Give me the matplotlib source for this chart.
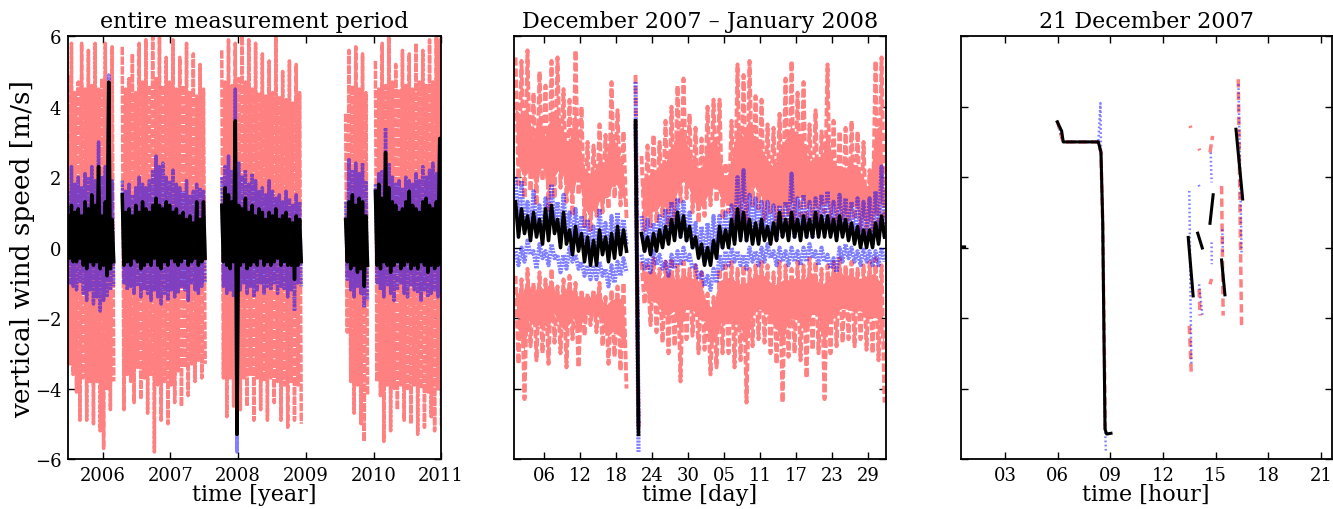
import numpy as np
import matplotlib
matplotlib.use('Agg')
import matplotlib.pyplot as plt

plt.rcParams['font.family'] = 'DejaVu Serif'
plt.rcParams['lines.scale_dashes'] = False
plt.rcParams['axes.unicode_minus'] = True

nan = np.nan
RED = '#ff8080'
BLUE = (0.0, 0.0, 1.0, 0.5)
DASH = (0, (6, 3))
DOT = (0, (1.2, 1.8))

# ---- panel 1: whole period, 0.05 yr bins, max/min of each trace per bin
p1_starts = [2005.50, 2006.30, 2007.77, 2009.60, 2010.04]
p1_counts = [14, 25, 24, 7, 20]
p1_step = 0.05

red_hi = [4.9, 5.8, 4.4, 4.7, 5.8, 4.5, 5.6, 4.6, 5.8, 4.5, 4.8, 5.8, 4.6, 5.7,
          5.7, 4.5, 4.8, 5.5, 4.4, 5.8, 4.7, 5.9, 4.6, 6.0, 4.8, 6.0, 4.6, 5.4, 4.7, 5.9, 4.5, 5.4, 4.6, 5.8, 4.4, 5.5, 4.3, 5.2, 4.5,
          5.6, 4.7, 5.9, 4.6, 5.8, 4.8, 6.0, 4.7, 5.9, 4.5, 5.8, 4.4, 5.5, 4.3, 5.3, 4.4, 6.0, 4.3, 5.0, 4.2, 5.3, 4.1, 5.2, 4.4,
          3.8, 5.6, 4.6, 5.7, 4.5, 5.5, 4.4,
          5.3, 4.5, 5.8, 4.6, 6.0, 4.7, 5.2, 4.5, 5.6, 4.6, 5.5, 4.5, 5.8, 4.7, 5.6, 4.6, 5.9, 4.7, 6.0, 5.9]
red_lo = [-3.3, -3.6, -4.1, -4.9, -3.7, -4.9, -3.8, -5.0, -3.8, -5.2, -5.7, -4.0, -4.6, -3.8,
          -4.6, -3.6, -3.8, -4.4, -3.4, -4.3, -3.7, -4.7, -3.6, -5.8, -3.9, -4.9, -3.8, -5.0, -3.9, -4.4, -3.5, -4.5, -3.4, -4.2, -3.3, -3.8, -3.2, -3.7, -3.3,
          -3.7, -4.8, -3.7, -4.5, -3.8, -4.6, -3.7, -4.5, -3.6, -4.9, -3.7, -4.6, -3.8, -4.9, -3.7, -4.4, -3.8, -4.9, -3.9, -5.1, -3.8, -4.9, -3.9, -5.0,
          -2.4, -3.8, -4.7, -3.9, -5.0, -5.5, -4.2,
          -3.8, -4.2, -5.5, -3.9, -5.2, -4.0, -4.6, -3.9, -4.9, -4.0, -5.0, -3.9, -5.3, -4.0, -5.1, -4.1, -4.8, -5.2, -4.0, -5.1]
blue_hi = [1.6, 2.3, 1.8, 2.0, 1.7, 2.1, 2.0, 2.3, 1.9, 3.0, 2.0, 2.3, 4.9, 1.9,
           1.9, 1.6, 1.8, 1.5, 1.7, 2.0, 1.8, 1.7, 1.9, 2.2, 2.6, 2.3, 2.4, 2.0, 1.9, 2.2, 1.8, 1.7, 1.6, 1.9, 1.5, 1.6, 1.8, 1.7, 1.6,
           2.0, 2.3, 2.6, 2.2, 4.5, 2.4, 2.0, 2.2, 1.8, 2.1, 1.9, 1.6, 1.7, 1.5, 1.9, 1.6, 1.4, 1.5, 1.3, 1.6, 1.4, 1.2, 1.5, 1.3,
           1.3, 2.5, 2.2, 2.4, 2.1, 2.4, 1.9,
           1.8, 2.1, 2.2, 3.4, 2.4, 2.0, 1.8, 1.9, 1.7, 2.0, 1.9, 1.8, 2.1, 1.9, 2.3, 2.0, 2.2, 2.4, 2.1, 3.0]
blue_lo = [-1.0, -1.1, -1.2, -1.0, -1.3, -1.5, -1.2, -1.6, -1.4, -1.8, -1.5, -1.4, -1.2, -1.1,
           -1.0, -1.2, -1.1, -1.3, -1.1, -1.4, -1.2, -1.3, -1.5, -1.2, -1.4, -1.6, -1.3, -1.5, -1.2, -1.4, -1.3, -1.1, -1.2, -1.5, -1.0, -1.2, -1.3, -1.1, -1.0,
           -1.1, -1.3, -1.2, -1.4, -5.8, -1.2, -1.0, -1.3, -1.1, -1.4, -1.2, -1.0, -1.3, -1.1, -1.2, -1.0, -1.3, -1.1, -1.2, -1.4, -1.2, -1.8, -1.0, -1.1,
           -0.9, -1.2, -1.4, -1.1, -1.3, -1.7, -1.5,
           -1.0, -1.2, -1.4, -1.1, -1.3, -1.5, -1.2, -1.0, -1.3, -1.4, -1.1, -1.2, -1.3, -1.5, -1.2, -1.4, -1.3, -1.2, -1.4, -1.3]
black_hi = [0.9, 1.2, 1.0, 1.1, 0.9, 1.3, 1.1, 1.5, 1.2, 2.3, 0.9, 1.3, 4.7, 0.8,
            1.5, 1.0, 1.1, 0.9, 1.2, 1.0, 1.3, 1.1, 1.0, 1.2, 1.4, 1.2, 1.1, 1.3, 1.2, 1.0, 1.1, 0.9, 1.0, 0.8, 0.9, 0.7, 1.3, 0.8, 1.3,
            1.2, 1.7, 1.5, 1.3, 3.6, 1.2, 1.1, 1.4, 1.0, 1.2, 0.9, 1.1, 1.0, 0.8, 1.0, 0.9, 1.1, 0.8, 0.9, 1.0, 0.8, 0.7, 0.9, 0.8,
            0.8, 1.3, 1.5, 1.2, 1.4, 1.3, 0.9,
            1.6, 1.8, 1.4, 2.7, 1.7, 1.3, 1.2, 1.0, 1.1, 1.3, 1.6, 1.2, 1.1, 1.0, 1.3, 1.4, 1.2, 1.1, 1.3, 3.1]
black_lo = [-0.3, -0.4, -0.4, -0.3, -0.5, -0.6, -0.4, -0.5, -0.4, -0.6, -0.5, -0.8, -0.6, -0.4,
            -0.5, -0.4, -0.5, -0.3, -0.4, -0.6, -0.5, -0.4, -0.5, -0.3, -0.5, -0.6, -0.4, -0.5, -0.3, -0.4, -0.5, -0.4, -0.3, -0.5, -0.4, -0.3, -0.5, -0.4, -0.3,
            -0.4, -0.5, -0.6, -0.4, -5.3, -0.5, -0.4, -0.6, -0.5, -0.4, -0.5, -0.3, -0.5, -0.4, -0.5, -0.4, -0.3, -0.5, -0.4, -0.5, -0.5, -0.9, -0.5, -0.4,
            -0.4, -0.6, -0.5, -0.7, -0.6, -1.1, -0.5,
            -0.5, -0.6, -0.4, -0.5, -0.7, -0.5, -0.4, -0.6, -0.5, -0.4, -0.6, -0.5, -0.6, -0.4, -0.5, -0.7, -0.5, -0.6, -0.5, -0.4]
years = [2006, 2007, 2008, 2009, 2010, 2011]

# ---- panel 2: Dec 2007 - Jan 2008, 1 day bins (days since 1 Dec 2007)
p2_starts = [0.5, 20.5, 21.5]
p2_counts = [19, 1, 41]
p2_step = 1.0

ru_hi = [5.4, 5.3, 5.6, 4.4, 5.0, 4.6, 5.3, 5.4, 4.5, 4.2, 5.6, 4.0, 3.0, 2.9, 3.5, 3.2, 4.7, 3.9, 3.3,
         4.9, 2.6, 2.9, 3.2, 3.0, 3.6, 4.0, 4.6, 4.8, 3.8, 3.4, 3.1, 4.0, 4.2, 4.2, 2.4, 3.6, 5.2, 4.9, 5.3, 4.3,
         4.2, 3.5, 3.4, 3.8, 4.8, 5.3, 4.4, 4.7, 3.5, 3.9, 3.3, 5.2, 3.6, 3.3, 3.4, 3.6, 3.3, 3.0, 2.2, 5.3, 5.4]
ru_lo = [1.8, 1.4, 1.6, 1.2, 1.9, 1.0, 1.4, 1.7, 1.3, 0.9, 1.5, 0.6, 0.5, 0.9, 1.0, 1.1, 1.4, 1.2, 0.8,
         -5.1, 0.5, 0.6, 0.7, 0.9, 0.6, 0.8, 1.3, 1.4, 1.0, 0.7, 0.9, 1.2, 1.3, 0.8, 1.0, 0.6, 0.7, 0.5, 1.2, 1.1,
         0.8, 1.0, 0.6, 0.8, 0.4, 0.7, 0.9, 0.6, 0.8, 0.6, 1.0, 0.5, 0.7, 0.6, 0.4, 0.8, 0.5, 0.3, 0.5, 0.4, 0.6]
rl_hi = [-0.8, -0.9, -0.6, -1.0, -0.7, -0.9, -0.6, -1.1, -0.9, -0.8, -1.0, -1.2, -1.3, -1.2, -1.0, -1.4, -1.2, -1.1, -1.0,
         3.6, -0.4, -0.5, -0.3, -0.6, -0.4, -0.3, -0.5, -0.4, -0.6, -0.5, -0.7, -1.3, -1.4, -0.6, -0.5, -0.4, -0.6, -0.5, -0.6, -0.5,
         -0.4, -0.5, -0.7, -0.4, -0.5, -0.6, -0.4, -0.5, -0.3, -0.4, -0.6, -0.5, -0.4, -0.3, -0.5, -0.4, -0.6, -0.5, -0.4, -0.3, -0.5]
rl_lo = [-3.3, -4.3, -2.8, -3.2, -3.0, -3.3, -2.7, -3.0, -3.4, -2.6, -3.4, -2.5, -2.2, -2.4, -2.8, -3.3, -3.1, -3.5, -4.0,
         -5.1, -1.6, -2.2, -2.4, -2.7, -3.0, -2.8, -3.8, -2.6, -2.5, -3.0, -2.9, -3.6, -3.4, -3.0, -3.0, -3.4, -3.2, -4.4, -2.8, -2.6,
         -2.7, -3.0, -3.3, -4.4, -3.1, -3.0, -3.2, -3.7, -2.9, -3.0, -4.3, -3.0, -2.8, -2.7, -2.6, -2.8, -2.6, -2.9, -3.0, -3.2, -4.4]
bu_hi = [2.0, 1.9, 1.3, 1.6, 1.2, 1.4, 1.8, 1.3, 1.5, 1.0, 1.1, 0.9, 0.8, 0.6, 1.1, 0.7, 0.9, 1.0, 0.8,
         4.7, 0.9, 0.8, 0.7, 0.9, 1.1, 1.3, 1.4, 1.3, 1.0, 0.7, 0.6, 0.7, 0.9, 0.9, 1.0, 1.2, 2.0, 2.2, 1.5, 1.4,
         1.3, 1.3, 1.2, 1.2, 1.3, 2.1, 1.4, 1.5, 1.3, 1.4, 1.5, 1.6, 1.3, 1.5, 1.4, 1.3, 1.4, 1.3, 1.4, 1.6, 2.3]
bu_lo = [0.6, 0.5, 0.4, 0.5, 0.3, 0.5, 0.6, 0.3, 0.4, 0.1, 0.2, 0.0, -0.1, -0.2, 0.1, -0.2, -0.1, 0.0, 0.1,
         -5.0, -0.1, 0.0, 0.1, 0.2, 0.3, 0.4, 0.3, 0.2, 0.0, -0.2, -0.3, -0.2, -0.1, 0.0, 0.1, 0.2, 0.3, 0.2, 0.3, 0.2,
         0.3, 0.3, 0.2, 0.3, 0.4, 0.3, 0.4, 0.3, 0.3, 0.4, 0.5, 0.4, 0.3, 0.4, 0.3, 0.2, 0.3, 0.2, 0.1, 0.2, 0.3]
bl_hi = [-0.1, 0.0, 0.2, -0.1, 0.1, -0.1, 0.1, -0.2, -0.2, 0.0, -0.2, -0.4, -0.5, -0.5, -0.4, -0.6, -0.5, -0.4, -0.3,
         3.5, -0.2, -0.3, -0.1, -0.2, -0.4, -0.2, -0.1, 0.0, -0.2, -0.5, -0.7, -0.8, -0.6, -0.2, -0.1, 0.0, -0.1, -0.2, 0.0, -0.1,
         0.0, 0.1, -0.1, 0.0, -0.1, 0.0, -0.1, 0.0, 0.1, -0.1, 0.0, -0.2, -0.3, 0.0, 0.1, 0.0, -0.1, 0.0, -0.1, -0.1, 0.0]
bl_lo = [-0.5, -0.4, -0.2, -0.6, -0.3, -0.5, -0.3, -0.7, -0.6, -0.4, -0.6, -0.8, -0.9, -0.9, -0.8, -1.1, -1.0, -0.8, -0.7,
         -5.8, -0.6, -0.7, -0.5, -0.6, -0.8, -0.6, -0.5, -0.4, -0.6, -0.9, -1.1, -1.2, -1.0, -0.6, -0.5, -0.4, -0.5, -0.6, -0.4, -0.5,
         -0.4, -0.3, -0.5, -0.4, -0.5, -0.4, -0.5, -0.4, -0.3, -0.5, -0.4, -0.6, -0.7, -0.4, -0.3, -0.4, -0.5, -0.4, -0.5, -0.5, -0.4]
k_hi = [1.3, 1.1, 0.9, 1.0, 0.8, 1.1, 1.2, 0.8, 1.0, 0.5, 0.6, 0.4, 0.3, 0.2, 0.5, 0.3, 0.4, 0.6, 0.5,
        3.6, 0.4, 0.3, 0.4, 0.5, 0.6, 0.8, 1.0, 0.9, 0.6, 0.3, 0.1, 0.0, 0.2, 0.6, 0.5, 0.8, 1.1, 1.0, 0.8, 0.7,
        0.8, 0.6, 0.7, 1.0, 0.8, 1.0, 0.8, 0.9, 0.8, 1.0, 0.9, 0.9, 0.8, 0.9, 0.8, 0.7, 0.6, 0.5, 0.5, 0.7, 0.9]
k_lo = [0.3, 0.4, 0.2, 0.3, 0.1, 0.2, 0.4, 0.0, 0.1, -0.2, -0.1, -0.4, -0.5, -0.5, -0.2, -0.4, -0.3, -0.2, -0.1,
        -5.3, -0.1, -0.2, -0.1, 0.0, 0.1, 0.2, 0.3, 0.2, 0.0, -0.3, -0.5, -0.5, -0.3, 0.0, 0.0, 0.1, 0.2, 0.2, 0.1, 0.1,
        0.2, 0.1, 0.2, 0.3, 0.2, 0.3, 0.2, 0.3, 0.3, 0.3, 0.3, 0.3, 0.2, 0.3, 0.2, 0.1, 0.0, 0.0, 0.0, 0.1, 0.3]
day_ticks = [5, 11, 17, 23, 29, 35, 41, 47, 53, 59]
day_labels = ['06', '12', '18', '24', '30', '05', '11', '17', '23', '29']

# ---- panel 3: 21 December 2007 (hours)
r3_t = [5.98, 6.25, 6.32, 8.32, 8.47, 8.57, 8.72, nan, 13.55, 13.59, nan, 13.50, 13.62, nan,
        14.05, 14.09, nan, 14.06, 14.11, nan, 14.68, 14.83, nan, 14.68, 14.77, nan, 15.34, 15.43, nan, 16.29, 16.48]
r3_v = [3.60, 3.10, 3.00, 3.00, 2.70, 0.60, -5.15, nan, 3.46, 3.40, nan, -2.22, -3.64, nan,
        2.81, 2.76, nan, -1.18, -1.93, nan, 2.70, 3.17, nan, -1.04, -0.89, nan, 1.75, -1.93, nan, 4.78, -2.26]
b3_t = [5.98, 6.25, 6.32, 8.32, 8.44, 8.47, 8.57, 8.70, 8.75, nan, 13.50, 13.56, 13.62, nan, 14.04, 14.08, nan,
        14.06, 14.25, nan, 14.72, 14.77, nan, 14.77, 14.78, nan, 15.38, 15.41, nan, 16.30, 16.40, 16.48]
b3_v = [3.60, 3.10, 3.00, 3.00, 4.10, 2.70, 0.70, -5.15, -5.76, nan, 1.61, -1.00, -3.35, nan, 1.78, 1.72, nan,
        -1.04, -1.93, nan, 2.70, 1.85, nan, 0.15, -0.47, nan, 0.52, -0.13, nan, 4.64, 2.00, -0.18]
k3_t = [0.48, 0.70, nan, 5.98, 6.23, 6.32, 8.32, 8.47, 8.57, 8.70, 8.79, 9.04, nan, 13.44, 13.72, nan,
        13.98, 14.24, nan, 14.68, 14.86, nan, 15.34, 15.53, nan, 16.16, 16.54]
k3_v = [0.02, 0.02, nan, 3.57, 3.31, 3.00, 3.00, 2.70, 0.71, -5.15, -5.29, -5.27, nan, 0.29, -1.37, nan,
        0.41, -0.01, nan, 0.69, 1.50, nan, -0.35, -1.34, nan, 3.36, 1.38]
hour_ticks = [3, 6, 9, 12, 15, 18, 21]


def zigzag(starts, counts, step, hi, lo):
    # each bin: line goes from its max to its min, segments split by nan
    xs, ys = [], []
    i = 0
    w = step / 4.0
    for s, n in zip(starts, counts):
        t = s + step * np.arange(n)
        xs.append(np.column_stack([t - w, t + w]).ravel())
        ys.append(np.column_stack([hi[i:i + n], lo[i:i + n]]).ravel())
        xs.append([nan])
        ys.append([nan])
        i += n
    return np.concatenate(xs), np.concatenate(ys)


def core(ax, starts, counts, step, hi, lo, f_top, f_bot, color):
    # densest part of a trace (where the strokes overlap), only a fraction of the range
    hi = np.asarray(hi)
    lo = np.asarray(lo)
    r = hi - lo
    top = hi - f_top * r
    bot = lo + f_bot * r
    i = 0
    w = step / 4.0
    for s, n in zip(starts, counts):
        t = s + step * np.arange(n)
        if n > 1:
            ax.fill(np.r_[t - w, (t + w)[::-1]],
                    np.r_[top[i:i + n], bot[i:i + n][::-1]], color=color, lw=0)
        i += n


def join(*traces):
    xs, ys = [], []
    for x, y in traces:
        xs += [x, [nan]]
        ys += [y, [nan]]
    return np.concatenate(xs), np.concatenate(ys)


def style(ax):
    ax.set_ylim(-6, 6)
    ax.set_yticks([-6, -4, -2, 0, 2, 4, 6])
    ax.tick_params(direction='in', top=True, right=True, length=5, width=1,
                   labelsize=13, pad=5)
    for s in ax.spines.values():
        s.set_linewidth(1.3)


fig = plt.figure(figsize=(13.33, 5.10), dpi=100)
ax1 = fig.add_axes([0.0512, 0.098, 0.2798, 0.829])
ax2 = fig.add_axes([0.3856, 0.098, 0.2791, 0.829])
ax3 = fig.add_axes([0.7207, 0.098, 0.2783, 0.829])

# panel 1 (bins are dense, so the gaps of the dash pattern are kept short)
x, y = zigzag(p1_starts, p1_counts, p1_step, red_hi, red_lo)
ax1.plot(x, y, color=RED, lw=2.5, linestyle=(0, (6, 1)))
x, y = zigzag(p1_starts, p1_counts, p1_step, blue_hi, blue_lo)
ax1.plot(x, y, color=BLUE, lw=2.5, linestyle=(0, (2, 0.6)))
x, y = zigzag(p1_starts, p1_counts, p1_step, black_hi, black_lo)
ax1.plot(x, y, color='k', lw=2.5)
ax1.set_xlim(2005.49, 2011.0)
ax1.set_xticks(years)
ax1.set_xticklabels([str(v) for v in years])
style(ax1)
ax1.set_title('entire measurement period', fontsize=16, pad=7)
ax1.set_xlabel('time [year]', fontsize=16, labelpad=-1)
ax1.set_ylabel('vertical wind speed [m/s]', fontsize=19, labelpad=0)

# panel 2
core(ax2, p2_starts, p2_counts, p2_step, ru_hi, ru_lo, 0.4, 0.15, RED)
core(ax2, p2_starts, p2_counts, p2_step, rl_hi, rl_lo, 0.15, 0.4, RED)
x, y = join(zigzag(p2_starts, p2_counts, p2_step, ru_hi, ru_lo),
            zigzag(p2_starts, p2_counts, p2_step, rl_hi, rl_lo))
ax2.plot(x, y, color=RED, lw=2.8, linestyle=(0, (6, 2)))
x, y = join(zigzag(p2_starts, p2_counts, p2_step, bu_hi, bu_lo),
            zigzag(p2_starts, p2_counts, p2_step, bl_hi, bl_lo))
ax2.plot(x, y, color=BLUE, lw=3.0, linestyle=(0, (1.5, 0.8)))
x, y = zigzag(p2_starts, p2_counts, p2_step, k_hi, k_lo)
ax2.plot(x, y, color='k', lw=2.6)
ax2.set_xlim(0, 62)
ax2.set_xticks(day_ticks)
ax2.set_xticklabels(day_labels)
style(ax2)
ax2.set_yticklabels([])
ax2.set_title('December 2007 \u2013 January 2008', fontsize=16, pad=7)
ax2.set_xlabel('time [day]', fontsize=16, labelpad=-1)

# panel 3
ax3.plot(r3_t, r3_v, color=RED, lw=2.5, linestyle=DASH)
ax3.plot(b3_t, b3_v, color=BLUE, lw=1.8, linestyle=DOT)
ax3.plot(k3_t, k3_v, color='k', lw=2.2)
ax3.set_xlim(0.48, 21.61)
ax3.set_xticks(hour_ticks)
ax3.set_xticklabels(['%02d' % h for h in hour_ticks])
style(ax3)
ax3.set_yticklabels([])
ax3.set_title('21 December 2007', fontsize=16, pad=7)
ax3.set_xlabel('time [hour]', fontsize=16, labelpad=-1)

fig.savefig('out.png', dpi=100)
